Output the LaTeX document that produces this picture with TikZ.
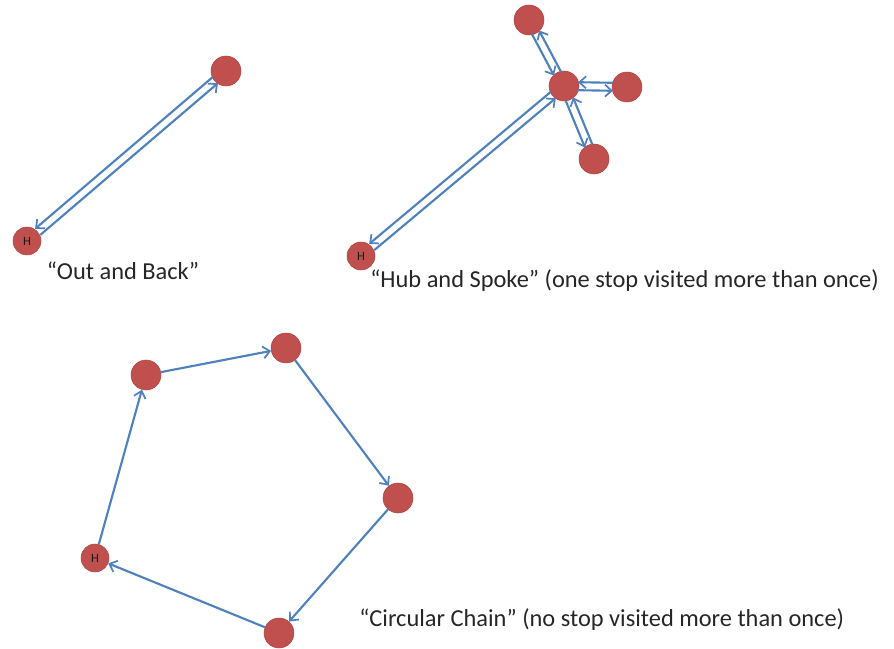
\documentclass[tikz,border=0pt]{standalone}
\usepackage{fontspec}
\setmainfont{Carlito}
\usetikzlibrary{arrows.meta,calc}
\definecolor{stopred}{RGB}{192,80,77}
\definecolor{stopedge}{RGB}{175,70,68}
\definecolor{arrowblue}{RGB}{79,129,189}
\tikzset{
  stop/.style={circle,fill=stopred,draw=stopedge,line width=0.4pt,minimum size=22.5pt,inner sep=0pt},
  home/.style={stop,minimum size=21pt,font=\fontsize{9.5}{10}\selectfont,text=black!90},
  arr/.style={draw=arrowblue,line width=1.6pt,-{Straight Barb[length=5pt,width=9pt,line width=1.3pt]}},
  pairarr/.style={arr,shorten <=10.5pt,shorten >=10.5pt},
  lbl/.style={font=\fontsize{18.3}{21}\selectfont,text=black!85,inner sep=0pt}
}
\newcommand{\leg}[2]{\draw[pairarr] ($(#1)!3pt!-90:(#2)$) -- ($(#2)!3pt!90:(#1)$);}
\begin{document}
\begin{tikzpicture}[x=0.75pt,y=-0.75pt]
\useasboundingbox (0,0) rectangle (894,649);
% Out and Back
\node[home] (oH) at (27,241) {H};
\node[stop] (oT) at (226,71) {};
\leg{oH}{oT}
\leg{oT}{oH}
\node[lbl] (oL) at (123,271) {“Out and Back”};
% Hub and Spoke
\node[home] (hH) at (361,256) {H};
\node[stop] (hC) at (564,86) {};
\node[stop] (hT) at (529,20) {};
\node[stop] (hR) at (627,87) {};
\node[stop] (hB) at (594,159) {};
\leg{hH}{hC}
\leg{hC}{hH}
\leg{hT}{hC}
\leg{hC}{hT}
\leg{hR}{hC}
\leg{hC}{hR}
\leg{hB}{hC}
\leg{hC}{hB}
\node[lbl,anchor=west] (hL) at (370,281) {“Hub and Spoke” (one stop visited more than once)};
% Circular Chain
\node[home] (cH) at (95,558) {H};
\node[stop] (cA) at (146,375) {};
\node[stop] (cB) at (286,348) {};
\node[stop] (cC) at (398,498) {};
\node[stop] (cD) at (279,633) {};
\draw[arr] (cH) -- (cA);
\draw[arr] (cA) -- (cB);
\draw[arr] (cB) -- (cC);
\draw[arr] (cC) -- (cD);
\draw[arr] (cD) -- (cH);
\node[lbl,anchor=west] (cL) at (359,620) {“Circular Chain” (no stop visited more than once)};
\end{tikzpicture}
\end{document}
